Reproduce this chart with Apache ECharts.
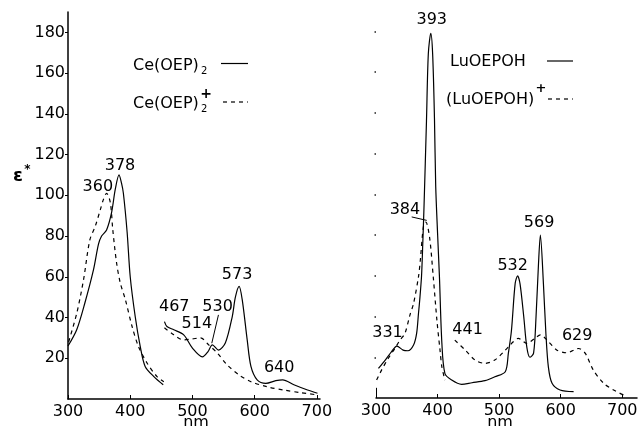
<!DOCTYPE html>
<html><head><meta charset="utf-8">
<script src="https://cdn.jsdelivr.net/npm/echarts@6/dist/echarts.min.js"></script>
<style>html,body{margin:0;padding:0;background:#fff}#c{width:638px;height:426px}</style>
</head><body><div id="c"></div>
<script>
// ---- tick labels ----
const xTickValues = [300, 400, 500, 600, 700];
const yTickValues = [20, 40, 60, 80, 100, 120, 140, 160, 180];
const xAxisTitle = 'nm';
const yAxisTitle = 'ε';

// ---- left panel: Ce(OEP)2 (solid) and Ce(OEP)2+ (dashed), [nm, epsilon] ----
const ceSoret = [[300,26],[314,34],[327,47],[341,63.5],[349,76],[354,80],[362,83],[370,91.5],[376,103],[382,110],[386,106],[389,101],[395,82],[400,60],[408,40.5],[416,26],[424,16],[438,11],[453,7]];
const ceQ = [[455,38],[459,35.6],[470,34],[486,31.5],[500,25],[516,20.7],[525,23.3],[532,26.6],[542,24],[553,27.6],[564,40.5],[569,50],[575,55.3],[580,48.8],[588,29],[594,16],[604,9.4],[618,7.7],[634,9],[645,9.4],[663,7],[685,4.4],[701,2.8]];
const ceCatSoret = [[301,28],[314,42],[325,58.6],[335,78],[344,85],[352,93],[357,98],[362,101],[368,96.5],[372,83],[378,67],[384,57],[392,49],[403,35.6],[413,26],[427,17.7],[443,11],[454,8.5]];
const ceCatQ = [[455,35],[470,31.5],[486,29],[500,29.5],[513,30],[526,26.6],[540,22.5],[556,16.7],[575,11.8],[594,8.5],[620,6],[647,4.4],[674,3.1],[701,2]];

// ---- right panel: LuOEPOH (solid) and (LuOEPOH)+ (dashed) ----
const luSolid = [[304,14.5],[315,18.6],[325,22.7],[334,25.5],[344,23.5],[352,23.2],[361,26],[366,31.7],[369,41.5],[371,48],[374,60],[376,76],[378,94],[382,136],[385,169],[389,179],[392,169],[395,137],[397,104],[400,81],[403,60],[407,27],[412,12],[423,8.8],[439,6.7],[456,7.5],[477,8.5],[493,10.4],[510,12.9],[515,21.9],[520,33],[526,56],[530,60],[534,56],[540,40],[545,25],[550,20],[556,22],[560,40],[564,66],[567,80],[572,56],[576,31.7],[580,15.3],[586,7.2],[599,3.9],[621,3.1]];
const luCatSoret = [[301,8.8],[309,13.7],[320,19.5],[331,24.5],[339,28.4],[347,31.7],[355,40.6],[361,46.4],[369,59.5],[372,67.6],[377,84],[381,86.4],[387,79],[393,59.5],[399,38],[404,23.5],[407,15.3],[412,8.8]];
const luCatQ = [[428,28.4],[445,23.5],[461,18.6],[477,17],[493,18.6],[510,23.5],[518,26],[523,27.6],[531,29.3],[545,26.8],[558,29.3],[567,31],[578,28.4],[594,23.5],[610,22.2],[629,24.3],[640,21.9],[653,13.7],[670,7.2],[686,3.9],[702,1.5]];

// ---- peak annotations: [text, nm, epsilon] ----
const leftPeakLabels = [['378',383.6,114.4],['360',348,104],['467',470.8,45],['514',507,36.8],['530',540.5,45],['573',571.8,61],['640',639.4,15.5]];
const rightPeakLabels = [['393',390.6,185.7],['384',347,92.5],['331',318.7,32.1],['441',448.8,33.3],['532',522,64.8],['569',565,86],['629',626.8,30.5]];
const leftLeaders = [[[541.8,41.3],[531.1,27.4]]];
const rightLeaders = [[[358,88.9],[382.4,87.2]],[[300,0],[300,5]]];

const FONT = 'DejaVu Sans';
const chart = echarts.init(document.getElementById('c'), null, {renderer:'canvas'});

function xAxisCfg(gi, max) {
  return {
    type:'value', gridIndex:gi, min:300, max:max, interval:100,
    axisLine:{show:true, lineStyle:{color:'#000', width:1.5}},
    axisTick:{show:true, inside:true, length:4, customValues:xTickValues, lineStyle:{color:'#000', width:1}},
    axisLabel:{show:true, customValues:xTickValues, color:'#000', fontSize:16, fontFamily:FONT, margin:5},
    splitLine:{show:false}
  };
}

function lineSeries(name, data, xi, dashed, extra) {
  return Object.assign({
    type:'line', name:name, xAxisIndex:xi, yAxisIndex:xi, data:data,
    showSymbol:false, smooth:0.3, animation:false, clip:false,
    lineStyle:{color:'#000', width:1.2, type: dashed ? [4,4] : 'solid'}
  }, extra || {});
}

function markPts(labels) {
  return {
    symbol:'circle', symbolSize:1, itemStyle:{color:'rgba(0,0,0,0)'}, silent:true,
    label:{show:true, position:'inside', formatter:'{b}', color:'#000', fontSize:16, fontFamily:FONT},
    data: labels.map(l => ({name:l[0], coord:[l[1], l[2]]}))
  };
}
function markLns(leaders) {
  return {
    symbol:['none','none'], silent:true, label:{show:false},
    lineStyle:{color:'#000', width:1, type:'solid'},
    data: leaders.map(p => [{coord:p[0]},{coord:p[1]}])
  };
}

const option = {
  backgroundColor:'#fff',
  animation:false,
  grid:[
    {left:68, top:12, width:252, height:387, outerBoundsMode:'none', containLabel:false},
    {left:376, top:11, width:261, height:387, outerBoundsMode:'none', containLabel:false}
  ],
  xAxis:[xAxisCfg(0, 705), xAxisCfg(1, 724)],
  yAxis:[
    {type:'value', gridIndex:0, min:0, max:190,
     axisLine:{show:true, lineStyle:{color:'#000', width:1.5}},
     axisTick:{show:true, inside:false, length:3, customValues:yTickValues, lineStyle:{color:'#000'}},
     axisLabel:{show:true, customValues:yTickValues, color:'#000', fontSize:16, fontFamily:FONT, margin:3},
     splitLine:{show:false}},
    {type:'value', gridIndex:1, min:0, max:190,
     axisLine:{show:false},
     axisTick:{show:true, inside:false, length:1.5, customValues:yTickValues, lineStyle:{color:'#222', width:1.5}},
     axisLabel:{show:false},
     splitLine:{show:false}}
  ],
  series:[
    lineSeries('Ce(OEP)2', ceSoret, 0, false, {markPoint:markPts(leftPeakLabels), markLine:markLns(leftLeaders)}),
    lineSeries('Ce(OEP)2', ceQ, 0, false),
    lineSeries('Ce(OEP)2+', ceCatSoret, 0, true),
    lineSeries('Ce(OEP)2+', ceCatQ, 0, true),
    lineSeries('LuOEPOH', luSolid, 1, false, {markPoint:markPts(rightPeakLabels), markLine:markLns(rightLeaders)}),
    lineSeries('(LuOEPOH)+', luCatSoret, 1, true),
    lineSeries('(LuOEPOH)+', luCatQ, 1, true)
  ],
  graphic:[
    // axis titles
    {type:'text', x:196, y:415, style:{text:xAxisTitle, font:'16px "DejaVu Sans"', fill:'#000', align:'center', verticalAlign:'top'}},
    {type:'text', x:500, y:415, style:{text:xAxisTitle, font:'16px "DejaVu Sans"', fill:'#000', align:'center', verticalAlign:'top'}},
    {type:'text', x:18, y:176, style:{text:yAxisTitle, font:'bold 18px "DejaVu Sans"', fill:'#000', align:'center', verticalAlign:'middle'}},
    {type:'text', x:27.5, y:170, style:{text:'*', font:'bold 12px "DejaVu Sans"', fill:'#000', align:'center', verticalAlign:'middle'}},
    // left legend
    {type:'text', x:133, y:66, style:{text:'Ce(OEP)', font:'16px "DejaVu Sans"', fill:'#000', align:'left', verticalAlign:'middle'}},
    {type:'text', x:201, y:71, style:{text:'2', font:'10px "DejaVu Sans"', fill:'#000', align:'left', verticalAlign:'middle'}},
    {type:'line', shape:{x1:221, y1:63.5, x2:248, y2:63.5}, style:{stroke:'#000', lineWidth:1.2}},
    {type:'text', x:133, y:103.5, style:{text:'Ce(OEP)', font:'16px "DejaVu Sans"', fill:'#000', align:'left', verticalAlign:'middle'}},
    {type:'text', x:201, y:109, style:{text:'2', font:'10px "DejaVu Sans"', fill:'#000', align:'left', verticalAlign:'middle'}},
    {type:'text', x:206, y:94, style:{text:'+', font:'bold 14px "DejaVu Sans"', fill:'#000', align:'center', verticalAlign:'middle'}},
    {type:'line', shape:{x1:223, y1:102, x2:248, y2:102}, style:{stroke:'#000', lineWidth:1.2, lineDash:[4,4]}},
    // right legend
    {type:'text', x:450, y:62, style:{text:'LuOEPOH', font:'16px "DejaVu Sans"', fill:'#000', align:'left', verticalAlign:'middle'}},
    {type:'line', shape:{x1:547, y1:61, x2:573, y2:61}, style:{stroke:'#000', lineWidth:1.2}},
    {type:'text', x:446, y:100, style:{text:'(LuOEPOH)', font:'16px "DejaVu Sans"', fill:'#000', align:'left', verticalAlign:'middle'}},
    {type:'text', x:541, y:89, style:{text:'+', font:'bold 13px "DejaVu Sans"', fill:'#000', align:'center', verticalAlign:'middle'}},
    {type:'line', shape:{x1:548, y1:99, x2:573, y2:99}, style:{stroke:'#000', lineWidth:1.2, lineDash:[4,4]}}
  ]
};
chart.setOption(option);
</script>
</body></html>
